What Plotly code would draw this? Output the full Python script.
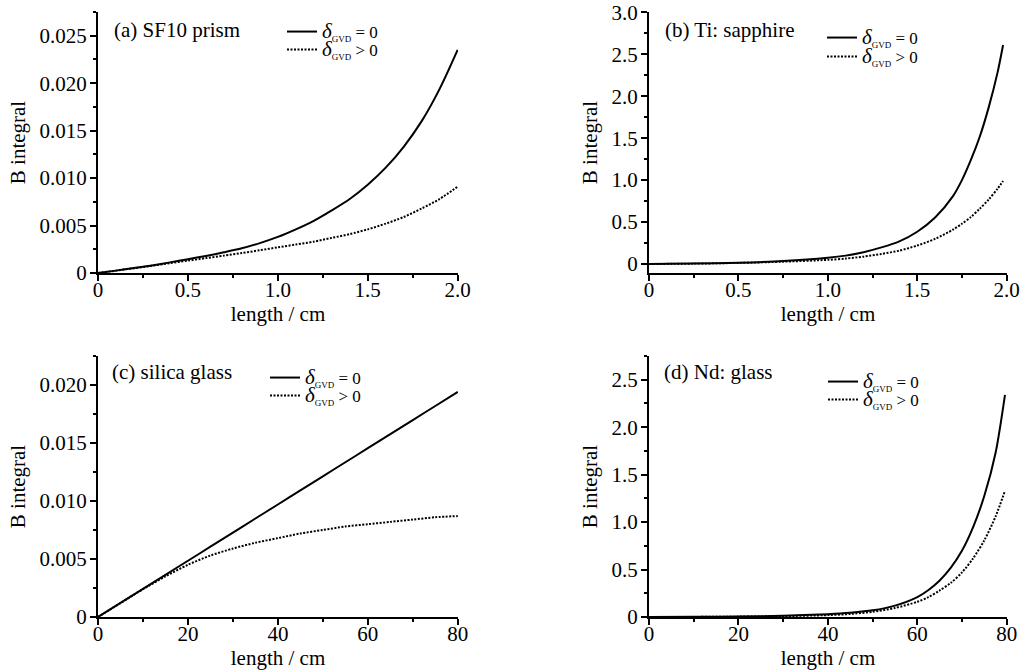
import plotly.graph_objects as go
from plotly.subplots import make_subplots

# ---------------- data ----------------
# (a) SF10 prism  (length in cm, B integral)
a_x = [0, 0.1, 0.2, 0.3, 0.4, 0.5, 0.6, 0.7, 0.8, 0.9, 1.0, 1.1, 1.2, 1.3, 1.4, 1.5, 1.6, 1.7, 1.8, 1.9, 2.0]
a_solid = [0, 0.00025, 0.00052, 0.0008, 0.00112, 0.00145, 0.0018, 0.00218, 0.0026, 0.00315, 0.0038,
           0.0046, 0.0055, 0.0066, 0.0078, 0.0093, 0.0111, 0.0133, 0.0160, 0.0194, 0.0235]
a_dot = [0, 0.00025, 0.0005, 0.00077, 0.00103, 0.0013, 0.00157, 0.00183, 0.0021, 0.0024, 0.0027,
         0.0030, 0.0033, 0.0037, 0.0041, 0.0046, 0.0052, 0.0059, 0.0068, 0.0078, 0.0091]

# (b) Ti: sapphire
b_x = [0, 0.25, 0.5, 0.75, 1.0, 1.1, 1.2, 1.3, 1.4, 1.5, 1.6, 1.7, 1.75, 1.8, 1.85, 1.9, 1.95, 1.98]
b_solid = [0, 0.006, 0.016, 0.035, 0.074, 0.10, 0.141, 0.198, 0.27, 0.385, 0.555, 0.81, 1.0, 1.24, 1.52, 1.87, 2.29, 2.61]
b_dot = [0, 0.005, 0.013, 0.028, 0.05, 0.065, 0.088, 0.12, 0.16, 0.22, 0.30, 0.41, 0.48, 0.56, 0.66, 0.77, 0.90, 0.99]

# (c) silica glass
c_x = [0, 5, 10, 15, 20, 25, 30, 35, 40, 45, 50, 55, 60, 65, 70, 75, 80]
c_solid = [0, 0.00121, 0.00243, 0.00364, 0.00485, 0.00606, 0.00728, 0.00849, 0.0097, 0.01091,
           0.01213, 0.01334, 0.01455, 0.01576, 0.01698, 0.01819, 0.0194]
c_dot = [0, 0.0012, 0.0024, 0.0035, 0.0045, 0.0053, 0.0059, 0.0064, 0.0068, 0.0072, 0.0075,
         0.0078, 0.0080, 0.0082, 0.0084, 0.0086, 0.0087]

# (d) Nd: glass
d_x = [0, 10, 20, 30, 40, 45, 50, 55, 60, 62.5, 65, 67.5, 70, 72.5, 75, 77.5, 79.6]
d_solid = [0, 0.002, 0.005, 0.013, 0.03, 0.045, 0.07, 0.12, 0.21, 0.285, 0.385, 0.52, 0.70, 0.95, 1.28, 1.73, 2.34]
d_dot = [0, 0.001, 0.004, 0.009, 0.02, 0.032, 0.055, 0.095, 0.16, 0.21, 0.28, 0.36, 0.47, 0.62, 0.81, 1.06, 1.33]

panel_titles = ["(a) SF10 prism", "(b) Ti: sapphire", "(c) silica glass", "(d) Nd: glass"]
legend_names = [
    "<span style='font-size:21px'><i>δ</i></span><sub><span style='font-size:9px'>GVD</span></sub> = 0",
    "<span style='font-size:21px'><i>δ</i></span><sub><span style='font-size:9px'>GVD</span></sub> &gt; 0",
]

x_ticks_cm2 = [0, 0.5, 1.0, 1.5, 2.0]
x_text_cm2 = ["0", "0.5", "1.0", "1.5", "2.0"]
x_ticks_cm80 = [0, 20, 40, 60, 80]
x_text_cm80 = ["0", "20", "40", "60", "80"]
ya_ticks = [0, 0.005, 0.010, 0.015, 0.020, 0.025]
ya_text = ["0", "0.005", "0.010", "0.015", "0.020", "0.025"]
yb_ticks = [0, 0.5, 1.0, 1.5, 2.0, 2.5, 3.0]
yb_text = ["0", "0.5", "1.0", "1.5", "2.0", "2.5", "3.0"]
yc_ticks = [0, 0.005, 0.010, 0.015, 0.020]
yc_text = ["0", "0.005", "0.010", "0.015", "0.020"]
yd_ticks = [0, 0.5, 1.0, 1.5, 2.0, 2.5]
yd_text = ["0", "0.5", "1.0", "1.5", "2.0", "2.5"]

# ---------------- figure ----------------
FONT = "Liberation Serif"
W, H = 1027, 671


def fx(px):
    return px / W


def fy(py):
    return 1 - py / H


fig = make_subplots(rows=2, cols=2)

panels = [
    (1, 1, a_x, a_solid, a_dot),
    (1, 2, b_x, b_solid, b_dot),
    (2, 1, c_x, c_solid, c_dot),
    (2, 2, d_x, d_solid, d_dot),
]
# one legend per entry so each key can sit exactly where the reference has it
legend_ids = ["legend", "legend2", "legend3", "legend4", "legend5", "legend6", "legend7", "legend8"]
k = 0
for r, c, xs, ys1, ys2 in panels:
    fig.add_trace(go.Scatter(x=xs, y=ys1, mode="lines", name=legend_names[0], showlegend=True,
                             line=dict(color="black", width=2, shape="spline", smoothing=0.8),
                             legend=legend_ids[k], hoverinfo="skip"), row=r, col=c)
    fig.add_trace(go.Scatter(x=xs, y=ys2, mode="lines", name=legend_names[1], showlegend=True,
                             line=dict(color="black", width=2, dash="2px,1.5px", shape="spline", smoothing=0.8),
                             legend=legend_ids[k + 1], hoverinfo="skip"), row=r, col=c)
    k += 2

xdom_left = [fx(98), fx(458)]
xdom_right = [fx(649), fx(1007)]
ydom_top = [fy(273), fy(12)]
ydom_bot = [fy(617), fy(356)]

axis_common = dict(showline=True, linewidth=2, linecolor="black", showgrid=False, zeroline=False,
                   ticks="outside", ticklen=6, tickwidth=2, tickcolor="black", automargin=False,
                   ticklabeloverflow="allow",
                   tickfont=dict(family=FONT, size=21, color="black"), mirror=False)


def xax(dom, tv, tt, rng, mdt):
    return dict(axis_common, domain=dom, range=rng, tickmode="array", tickvals=tv, ticktext=tt,
                ticklabelstandoff=-9,
                minor=dict(ticks="outside", ticklen=3, tickwidth=1.5, tickcolor="black", dtick=mdt, tick0=0),
                title=dict(text="length / cm", font=dict(family=FONT, size=21, color="black"), standoff=0))


def yax(dom, tv, tt, rng, mdt):
    return dict(axis_common, domain=dom, range=rng, tickmode="array", tickvals=tv, ticktext=tt,
                ticklabelstandoff=-1,
                minor=dict(ticks="outside", ticklen=3, tickwidth=1.5, tickcolor="black", dtick=mdt, tick0=0),
                title=dict(text="B integral", font=dict(family=FONT, size=21, color="black"), standoff=8))


fig.update_layout(
    template="none",
    showlegend=True,
    width=W, height=H, margin=dict(l=0, r=0, t=0, b=0, autoexpand=False),
    paper_bgcolor="white", plot_bgcolor="white",
    font=dict(family=FONT, size=20, color="black"),
    xaxis=xax(xdom_left, x_ticks_cm2, x_text_cm2, [0, 2.002], 0.25),
    yaxis=yax(ydom_top, ya_ticks, ya_text, [0, 0.0275], 0.0025),
    xaxis2=xax(xdom_right, x_ticks_cm2, x_text_cm2, [0, 2.002], 0.25),
    yaxis2=yax(ydom_top, yb_ticks, yb_text, [-0.107, 3.004], 0.25),
    xaxis3=xax(xdom_left, x_ticks_cm80, x_text_cm80, [0, 80.05], 10),
    yaxis3=yax(ydom_bot, yc_ticks, yc_text, [0, 0.0225], 0.0025),
    xaxis4=xax(xdom_right, x_ticks_cm80, x_text_cm80, [0, 80.05], 10),
    yaxis4=yax(ydom_bot, yd_ticks, yd_text, [0, 2.75], 0.25),
)

leg_common = dict(bgcolor="rgba(0,0,0,0)", borderwidth=0, xanchor="left", yanchor="middle",
                  font=dict(family=FONT, size=17, color="black"), itemwidth=30, visible=True)
# (left x of key line, centre y of entry) in screenshot pixels
leg_pos = [(287, 32), (287, 50), (827, 38), (827, 57), (270, 378), (270, 396), (828, 382), (828, 400)]
for name, (px, py) in zip(legend_ids, leg_pos):
    fig.update_layout({name: dict(leg_common, x=fx(px - 5), y=fy(py))})

label_pos = [(112, 30), (663, 30), (110, 372), (662, 372)]
for text, (px, py) in zip(panel_titles, label_pos):
    fig.add_annotation(text=text, x=fx(px), y=fy(py), xref="paper", yref="paper",
                       xanchor="left", yanchor="middle", showarrow=False,
                       font=dict(family=FONT, size=21, color="black"))

# the figure fills the whole 1027x671 page: drop the browser's default body margin
fig.write_html("out.html", config={"displayModeBar": False},
               post_script="document.body.style.margin='0px';")
